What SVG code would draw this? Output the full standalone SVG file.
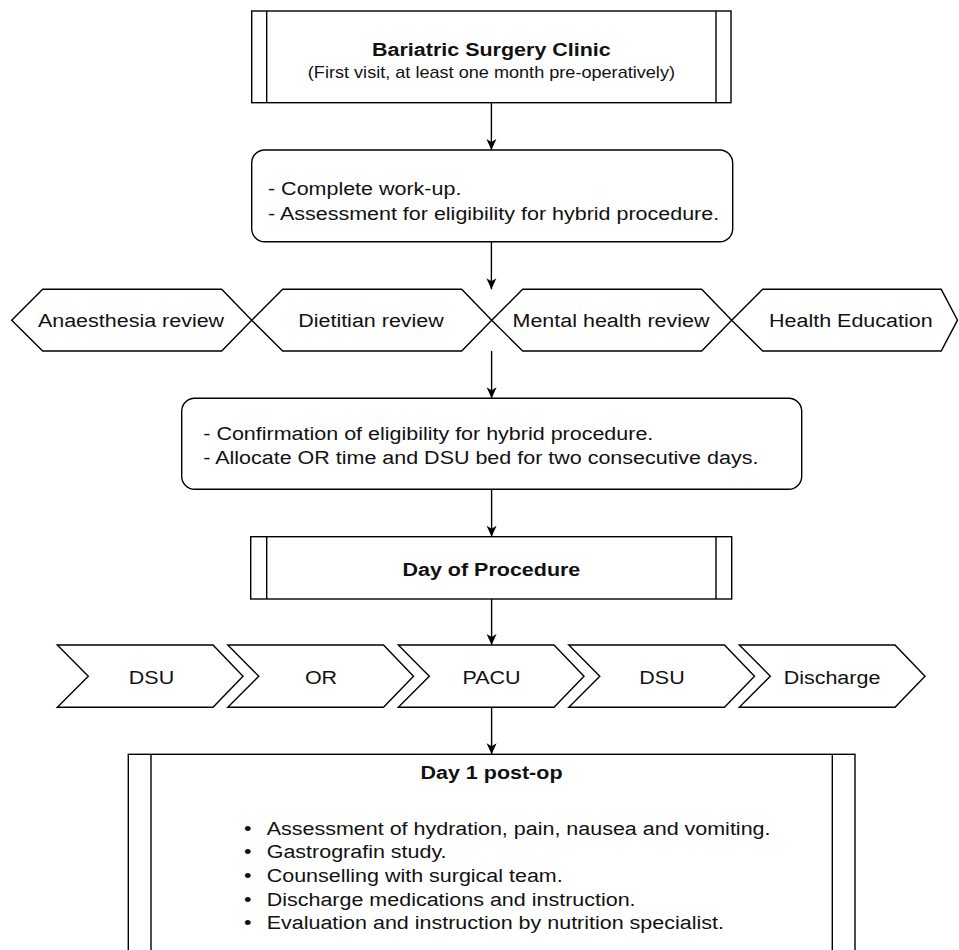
<svg xmlns="http://www.w3.org/2000/svg" width="959" height="950" viewBox="0 0 959 950">
<defs>
<style>
.shape{fill:#fff;stroke:#000;stroke-width:1.4;}
.inner{stroke:#000;stroke-width:1.4;fill:none;}
.t{font-family:"Liberation Sans",Arial,Helvetica,sans-serif;font-size:19px;fill:#111;}
.b{font-weight:bold;}
.s{font-size:16px;}
.m{text-anchor:middle;}
.conn{stroke:#000;stroke-width:1.4;fill:none;marker-end:url(#arr);}
</style>
<marker id="arr" markerUnits="userSpaceOnUse" markerWidth="12" markerHeight="12" viewBox="0 0 12 12" refX="11" refY="6" orient="auto">
<path d="M0,1 L11,6 L0,11 L3,6 z" fill="#000"/>
</marker>
</defs>
<rect width="959" height="950" fill="#fff"/>

<g id="n-clinic">
<rect class="shape" x="251.7" y="11" width="479.3" height="91.7"/>
<line class="inner" x1="266.7" y1="11" x2="266.7" y2="102.7"/>
<line class="inner" x1="716" y1="11" x2="716" y2="102.7"/>
<text class="t b m" transform="translate(491.4,56.1) scale(1.1316,1)">Bariatric Surgery Clinic</text>
<text class="t s m" transform="translate(491.4,77.5) scale(1.1316,1)">(First visit, at least one month pre-operatively)</text>
</g>

<g id="n-workup">
<rect class="shape" x="251.7" y="150" width="481" height="91.7" rx="13"/>
<text class="t" transform="translate(268,195.1) scale(1.1316,1)">- Complete work-up.</text>
<text class="t" transform="translate(268,219.5) scale(1.1316,1)">- Assessment for eligibility for hybrid procedure.</text>
</g>

<g id="n-anaes">
<polygon class="shape" points="11.7,320.2 42.7,289.3 221.7,289.3 251.7,320.2 221.7,351 42.7,351"/>
<text class="t m" transform="translate(131,327.3) scale(1.1316,1)">Anaesthesia review</text>
</g>
<g id="n-diet">
<polygon class="shape" points="251.7,320.2 282.7,289.3 461.7,289.3 491.7,320.2 461.7,351 282.7,351"/>
<text class="t m" transform="translate(371,327.3) scale(1.1316,1)">Dietitian review</text>
</g>
<g id="n-mental">
<polygon class="shape" points="491.7,320.2 522.7,289.3 701.7,289.3 731.7,320.2 701.7,351 522.7,351"/>
<text class="t m" transform="translate(611,327.3) scale(1.1316,1)">Mental health review</text>
</g>
<g id="n-health">
<polygon class="shape" points="731.7,320.2 762.7,289.3 941.2,289.3 957.5,320.2 941.2,351 762.7,351"/>
<text class="t m" transform="translate(850.8,327.3) scale(1.1316,1)">Health Education</text>
</g>

<g id="n-confirm">
<rect class="shape" x="181.7" y="398.3" width="620" height="91" rx="13"/>
<text class="t" transform="translate(203.3,440.1) scale(1.1316,1)">- Confirmation of eligibility for hybrid procedure.</text>
<text class="t" transform="translate(203.3,463.5) scale(1.1316,1)">- Allocate OR time and DSU bed for two consecutive days.</text>
</g>

<g id="n-dayproc">
<rect class="shape" x="250.7" y="536.7" width="481" height="62.3"/>
<line class="inner" x1="266.7" y1="536.7" x2="266.7" y2="599"/>
<line class="inner" x1="716" y1="536.7" x2="716" y2="599"/>
<text class="t b m" transform="translate(491.4,576.1) scale(1.1316,1)">Day of Procedure</text>
</g>

<g id="n-dsu1">
<polygon class="shape" points="57.3,645 213,645 243,676.2 213,707.3 57.3,707.3 88.3,676.2"/>
<text class="t m" transform="translate(151.5,684) scale(1.1316,1)">DSU</text>
</g>
<g id="n-or">
<polygon class="shape" points="227.8,645 383.5,645 413.5,676.2 383.5,707.3 227.8,707.3 258.8,676.2"/>
<text class="t m" transform="translate(321,684) scale(1.1316,1)">OR</text>
</g>
<g id="n-pacu">
<polygon class="shape" points="398.3,645 554,645 584,676.2 554,707.3 398.3,707.3 429.3,676.2"/>
<text class="t m" transform="translate(491.5,684) scale(1.1316,1)">PACU</text>
</g>
<g id="n-dsu2">
<polygon class="shape" points="568.8,645 724.5,645 754.5,676.2 724.5,707.3 568.8,707.3 599.8,676.2"/>
<text class="t m" transform="translate(662,684) scale(1.1316,1)">DSU</text>
</g>
<g id="n-discharge">
<polygon class="shape" points="739.3,645 895,645 925,676.2 895,707.3 739.3,707.3 770.3,676.2"/>
<text class="t m" transform="translate(832,684) scale(1.1316,1)">Discharge</text>
</g>

<g id="n-day1">
<rect class="shape" x="128.3" y="754.3" width="726.7" height="210"/>
<line class="inner" x1="151" y1="754.3" x2="151" y2="964"/>
<line class="inner" x1="832.3" y1="754.3" x2="832.3" y2="964"/>
<text class="t b m" transform="translate(491.5,779.1) scale(1.1316,1)">Day 1 post-op</text>
<text class="t m" transform="translate(247.7,834.5) scale(1.1316,1)">•</text>
<text class="t" transform="translate(266.7,834.5) scale(1.1316,1)">Assessment of hydration, pain, nausea and vomiting.</text>
<text class="t m" transform="translate(247.7,858.1) scale(1.1316,1)">•</text>
<text class="t" transform="translate(266.7,858.1) scale(1.1316,1)">Gastrografin study.</text>
<text class="t m" transform="translate(247.7,881.8) scale(1.1316,1)">•</text>
<text class="t" transform="translate(266.7,881.8) scale(1.1316,1)">Counselling with surgical team.</text>
<text class="t m" transform="translate(247.7,905.5) scale(1.1316,1)">•</text>
<text class="t" transform="translate(266.7,905.5) scale(1.1316,1)">Discharge medications and instruction.</text>
<text class="t m" transform="translate(247.7,929.1) scale(1.1316,1)">•</text>
<text class="t" transform="translate(266.7,929.1) scale(1.1316,1)">Evaluation and instruction by nutrition specialist.</text>
</g>

<g id="connectors">
<path class="conn" d="M491.4,102.7 V150"/>
<path class="conn" d="M491.4,241.7 V289.3"/>
<path class="conn" d="M491.6,351 V398.3"/>
<path class="conn" d="M491.6,489.3 V536.7"/>
<path class="conn" d="M491.6,599 V645"/>
<path class="conn" d="M491.6,707.3 V754.3"/>
</g>
</svg>
